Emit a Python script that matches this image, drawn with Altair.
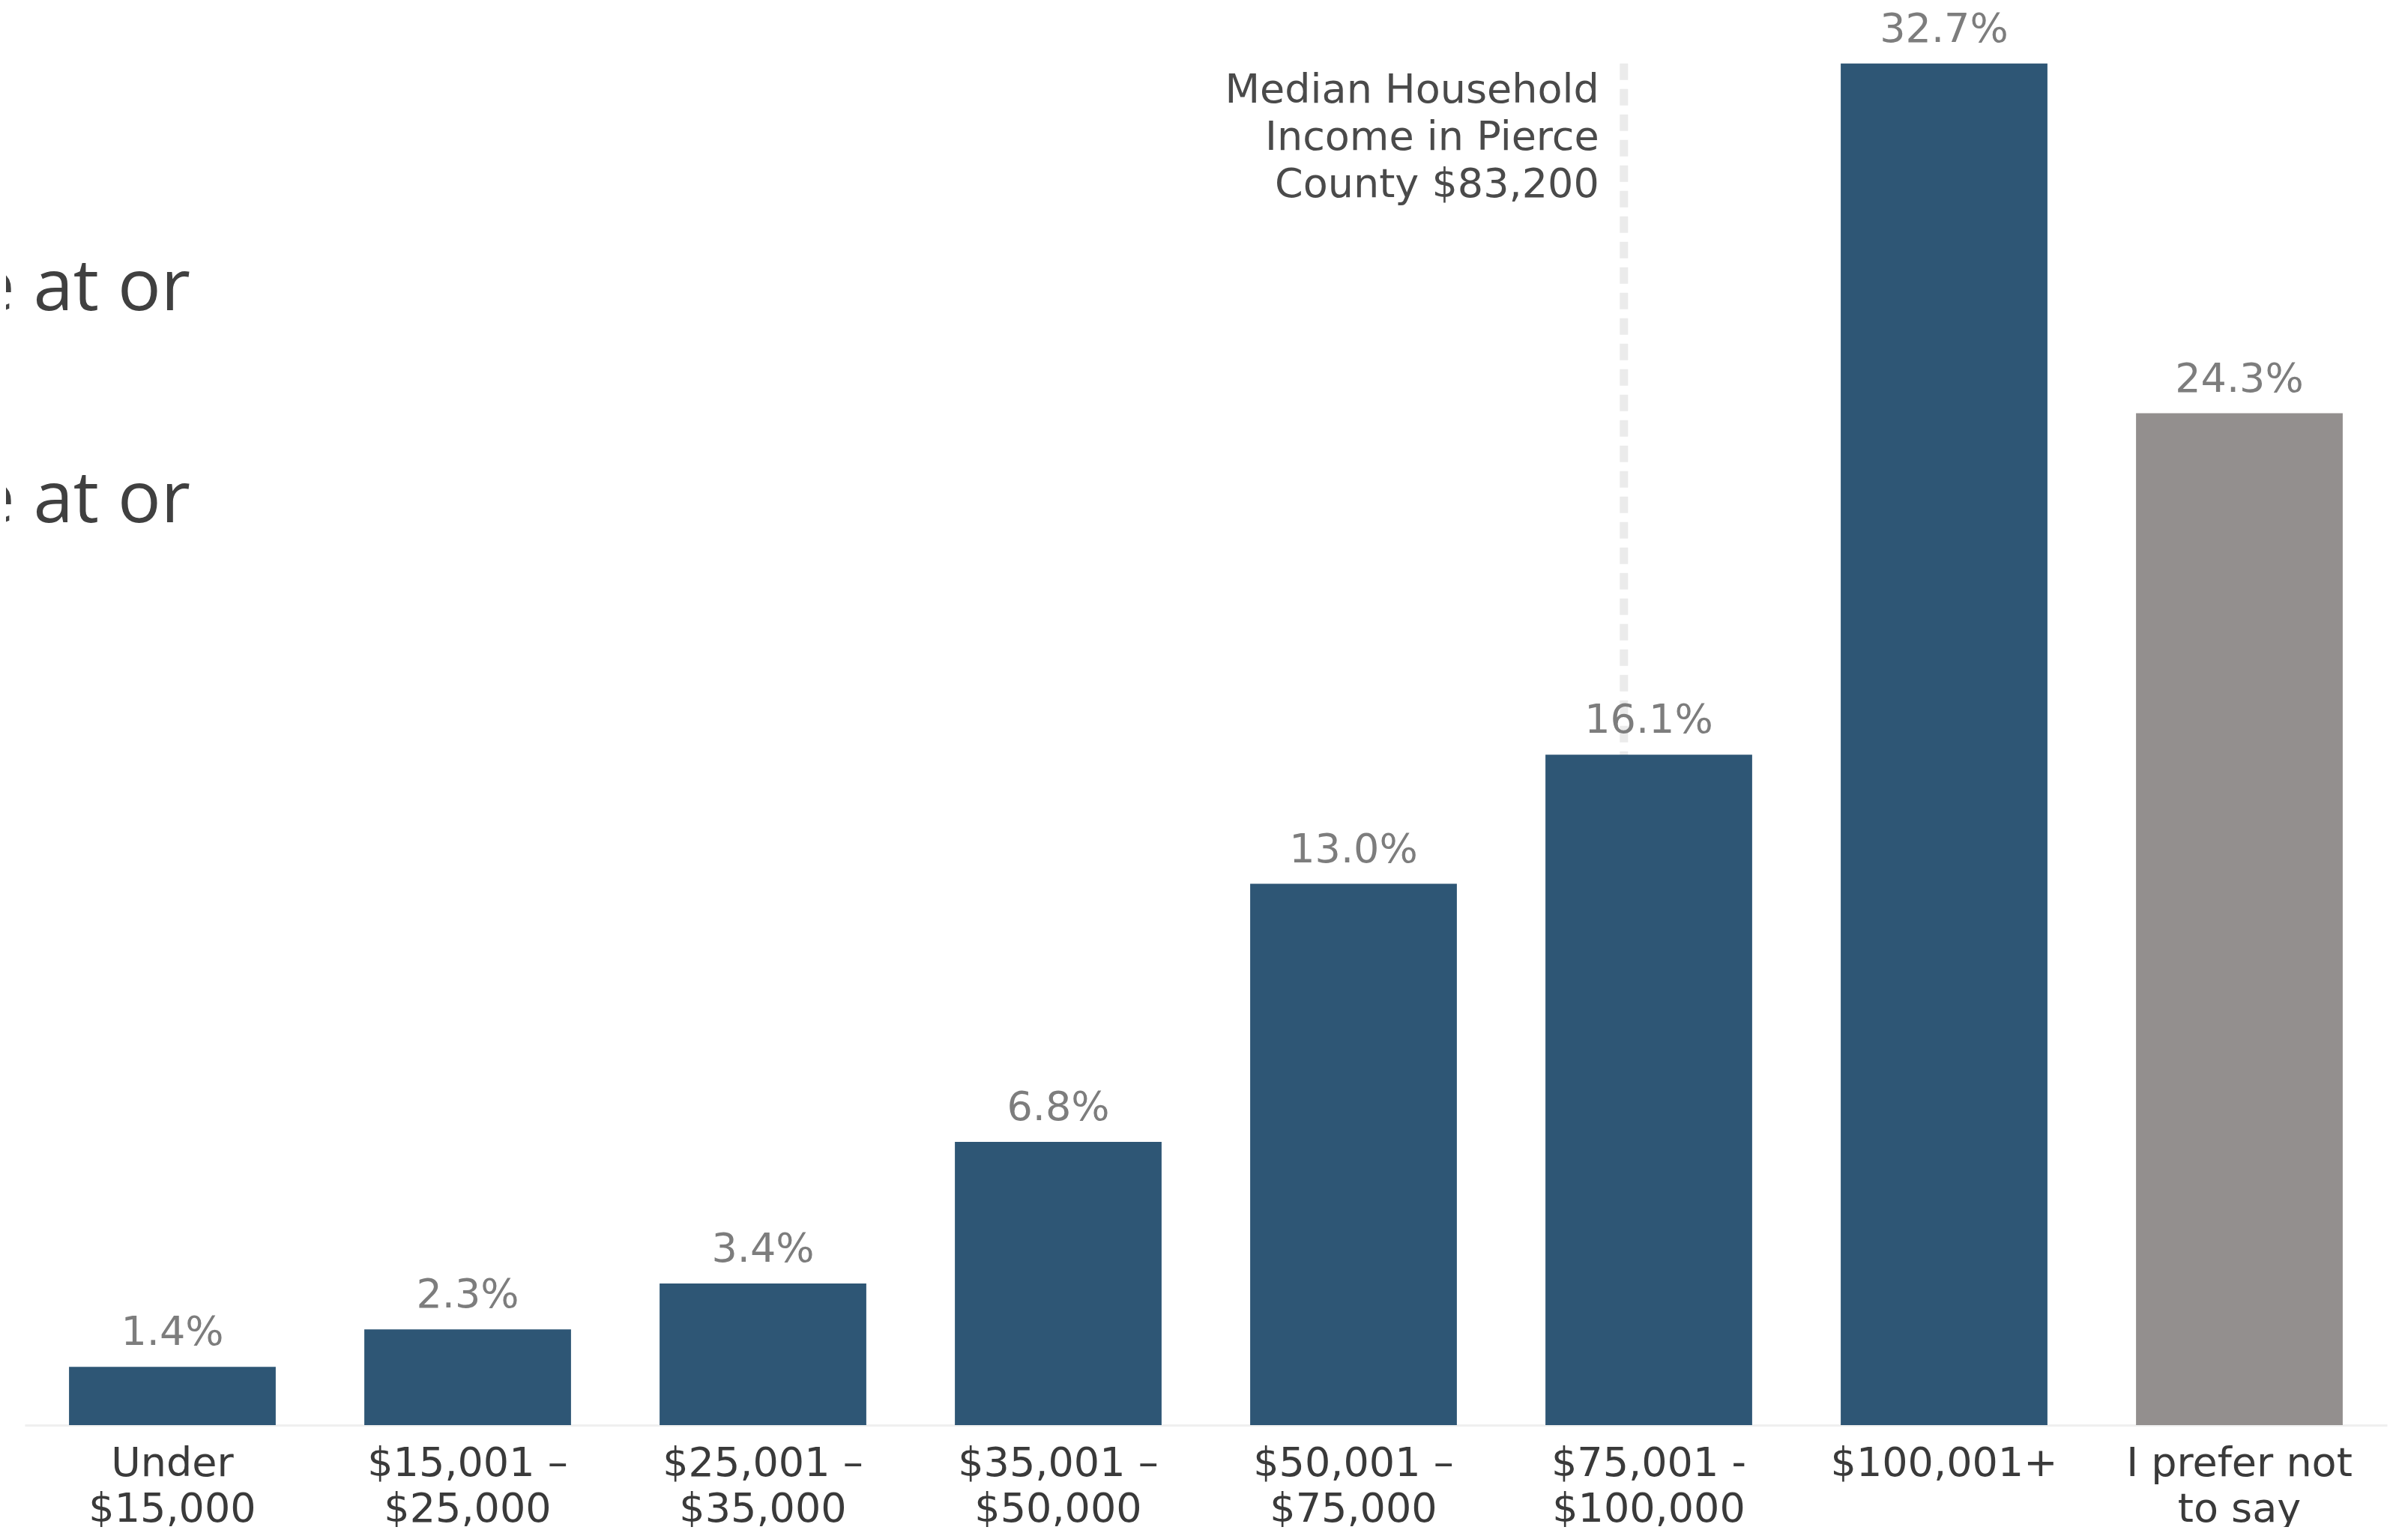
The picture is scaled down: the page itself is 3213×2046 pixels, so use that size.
import altair as alt
import pandas as pd

# ---- data ----
categories = [
    "Under\n$15,000",
    "$15,001 –\n$25,000",
    "$25,001 –\n$35,000",
    "$35,001 –\n$50,000",
    "$50,001 –\n$75,000",
    "$75,001 -\n$100,000",
    "$100,001+",
    "I prefer not\nto say",
]
values = [1.4, 2.3, 3.4, 6.8, 13.0, 16.1, 32.7, 24.3]
groups = ["answered"] * 7 + ["no answer"]
group_names = ["answered", "no answer"]
group_colors = ["#2e5675", "#938f8e"]

median_income = 83200
median_bracket = "$75,001 -\n$100,000"
bracket_low, bracket_high = 75000, 100000
annotation_lines = ["Median Household", "Income in Pierce", "County $83,200"]
side_texts = ["e at or", "e at or"]

df = pd.DataFrame({
    "cat": categories,
    "val": values,
    "grp": groups,
    "lab": [f"{v:.1f}%" for v in values],
})

med_df = pd.DataFrame({"cat": [median_bracket], "top": [max(values)], "bottom": [0.0]})

pad_inner, pad_outer = 0.3, 0.15
x_scale = alt.Scale(paddingInner=pad_inner, paddingOuter=pad_outer)
y_scale = alt.Scale(domain=[0, 34.08])

x_axis = alt.Axis(
    title=None, ticks=False, labelAngle=0, grid=False,
    domainColor="#efefef", domainWidth=3,
    labelFont="DejaVu Sans", labelFontSize=54, labelColor="#3a3a3a",
    labelPadding=24, labelBaseline="top", labelLineHeight=61, labelLimit=0,
    labelExpr="split(datum.label, '\\n')",
)

# position of the median inside its bracket's bar
band_pos = pad_outer + (1 - pad_inner) * (median_income - bracket_low) / (bracket_high - bracket_low)

rule = alt.Chart(med_df).mark_rule(
    color="#ebebeb", strokeWidth=11, strokeDash=[22, 12]
).encode(
    x=alt.X("cat:N", sort=categories, scale=x_scale, axis=x_axis, bandPosition=band_pos),
    y=alt.Y("top:Q", scale=y_scale, axis=None),
    y2="bottom:Q",
)

bars = alt.Chart(df).mark_bar().encode(
    x=alt.X("cat:N", sort=categories, scale=x_scale, axis=x_axis),
    y=alt.Y("val:Q", scale=y_scale, axis=None),
    color=alt.Color("grp:N", scale=alt.Scale(domain=group_names, range=group_colors), legend=None),
)

labels = alt.Chart(df).mark_text(
    dy=-29, baseline="alphabetic", font="DejaVu Sans", fontSize=54, color="#7d7d7d"
).encode(
    x=alt.X("cat:N", sort=categories, scale=x_scale, axis=x_axis),
    y=alt.Y("val:Q", scale=y_scale, axis=None),
    text="lab:N",
)

ann = alt.Chart(med_df).mark_text(
    align="right", baseline="top", dx=-33, lineHeight=63,
    font="DejaVu Sans", fontSize=54, color="#4a4a4a",
).encode(
    x=alt.X("cat:N", sort=categories, scale=x_scale, axis=x_axis, bandPosition=band_pos),
    y=alt.value(86),
    text=alt.value(annotation_lines),
)

side_df = pd.DataFrame({"t": side_texts, "py": [406, 689]})
side = alt.Chart(side_df).mark_text(
    align="right", baseline="alphabetic", font="Open Sans", fontSize=96, color="#404040"
).encode(
    x=alt.value(221),
    y=alt.Y("py:Q", scale=None, axis=None),
    text="t:N",
)

chart = alt.layer(rule, bars, labels, ann, side).properties(
    width=3152, height=1894,
    padding={"left": 25, "top": 0, "right": 20, "bottom": 136},
    autosize=alt.AutoSizeParams(type="none"),
).configure_view(stroke=None)

chart.save("out.html", embed_options={"renderer": "svg", "actions": False})
